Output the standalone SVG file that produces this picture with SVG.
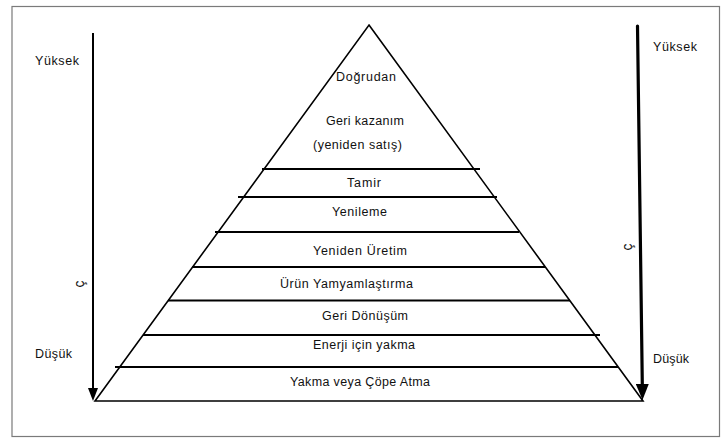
<svg xmlns="http://www.w3.org/2000/svg" width="727" height="438" viewBox="0 0 727 438">
<style>
  text { font-family: "Liberation Sans", Arial, sans-serif; font-size: 12.5px; fill: #111; }
  .c { text-anchor: middle; }
  .g { font-size: 14px; }
  .frame { fill: #fff; stroke: #7a7a7a; stroke-width: 1.2; }
  .tri { fill: none; stroke: #000; stroke-width: 1.6; stroke-linejoin: miter; }
  .tier { stroke: #000; stroke-width: 2; }
  .arr1 { stroke: #000; stroke-width: 2; fill: none; }
  .arr2 { stroke: #000; stroke-width: 3.2; fill: none; stroke-linecap: round; }
</style>
<defs>
  <marker id="headS" viewBox="0 0 13 10" refX="7" refY="5" markerWidth="13" markerHeight="10" markerUnits="userSpaceOnUse" orient="auto">
    <path d="M0,0 L13,5 L0,10 z" fill="#000"/>
  </marker>
  <marker id="headL" viewBox="0 0 16 13" refX="8" refY="6.5" markerWidth="16" markerHeight="13" markerUnits="userSpaceOnUse" orient="auto">
    <path d="M0,0 L16,6.5 L0,13 z" fill="#000"/>
  </marker>
</defs>
<rect class="frame" x="12" y="6.5" width="707.5" height="430"/>

<g id="pyramid">
  <path class="tri" d="M369,25 L643,401 L95,401 Z"/>
  <line class="tier" x1="262" y1="169" x2="480" y2="169"/>
  <line class="tier" x1="238" y1="197" x2="497" y2="197"/>
  <line class="tier" x1="215" y1="232" x2="519" y2="232"/>
  <line class="tier" x1="192" y1="267" x2="545" y2="267"/>
  <line class="tier" x1="168" y1="300.5" x2="570" y2="300.5"/>
  <line class="tier" x1="143" y1="335" x2="600" y2="335"/>
  <line class="tier" x1="115" y1="367" x2="618" y2="367"/>
</g>

<g id="levels">
  <g id="n-dogrudan"><text class="c" x="366" y="81" textLength="60">Doğrudan</text></g>
  <g id="n-gerikazanim">
    <text class="c" x="365" y="125" textLength="78">Geri kazanım</text>
    <text class="c" x="357.5" y="149" textLength="89">(yeniden satış)</text>
  </g>
  <g id="n-tamir"><text class="c" x="364" y="187" textLength="34">Tamir</text></g>
  <g id="n-yenileme"><text class="c" x="359.5" y="216" textLength="55">Yenileme</text></g>
  <g id="n-yenidenuretim"><text class="c" x="360" y="254.5" textLength="94">Yeniden Üretim</text></g>
  <g id="n-urun"><text class="c" x="346.5" y="288" textLength="133">Ürün Yamyamlaştırma</text></g>
  <g id="n-geridonusum"><text class="c" x="365" y="319.5" textLength="86">Geri Dönüşüm</text></g>
  <g id="n-enerji"><text class="c" x="364" y="348.5" textLength="102">Enerji için yakma</text></g>
  <g id="n-yakma"><text class="c" x="360" y="386" textLength="140">Yakma veya Çöpe Atma</text></g>
</g>

<g id="connectors">
  <line class="arr1" x1="93" y1="33" x2="93" y2="395" marker-end="url(#headS)"/>
  <line class="arr2" x1="637.5" y1="26" x2="642.4" y2="392" marker-end="url(#headL)"/>
</g>

<g id="scale-left">
  <text x="35" y="65" textLength="44">Yüksek</text>
  <text x="35" y="358" textLength="37">Düşük</text>
  <text class="c g" transform="translate(80,284) rotate(-90)" x="0" y="4">ç</text>
</g>
<g id="scale-right">
  <text x="653" y="51" textLength="44">Yüksek</text>
  <text x="653" y="363" textLength="36">Düşük</text>
  <text class="c g" transform="translate(628,247) rotate(-90)" x="0" y="4">ç</text>
</g>
</svg>
